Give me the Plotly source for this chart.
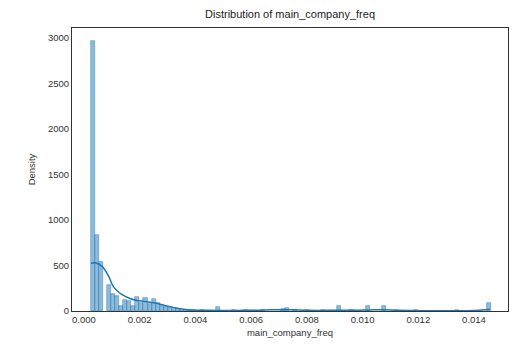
import plotly.graph_objects as go

# Histogram data (density per bin)
bin_start = 0.00025
bin_width = 0.000145
bin_index = [0, 1, 2, 4, 5, 6, 7, 8, 9, 10, 11, 12, 13, 14, 15, 16, 17, 18, 19, 20,
             21, 22, 23, 24, 25, 27, 31, 35, 38, 42, 47, 48, 50, 53, 57, 61, 64, 68,
             72, 75, 80, 85, 90, 98]
density = [2960, 830, 540, 290, 190, 170, 60, 120, 110, 60, 150, 90, 140, 80, 130, 90,
           60, 40, 30, 25, 20, 15, 10, 12, 8, 6, 40, 8, 10, 15, 25, 30, 10, 8, 10, 60,
           8, 50, 60, 10, 6, 5, 8, 90]

# KDE curve
kde_x = [0.00025, 0.0004, 0.00065, 0.00087, 0.00105, 0.0012, 0.00137, 0.00165, 0.0019,
         0.0022, 0.0026, 0.0029, 0.0032, 0.0035, 0.004, 0.0045, 0.005, 0.0055, 0.006,
         0.0065, 0.007, 0.0075, 0.008, 0.0085, 0.009, 0.0095, 0.01, 0.0104, 0.0108,
         0.0112, 0.0118, 0.0125, 0.013, 0.0135, 0.014, 0.0143, 0.01457]
kde_y = [525, 530, 490, 390, 270, 220, 180, 137, 115, 105, 85, 60, 40, 22, 9, 7, 6, 6,
         8, 11, 15, 13, 7, 6, 8, 7, 10, 13, 14, 9, 5, 3, 2, 3, 6, 10, 18]

x_ticks = [0.000, 0.002, 0.004, 0.006, 0.008, 0.010, 0.012, 0.014]
y_ticks = [0, 500, 1000, 1500, 2000, 2500, 3000]

bar_x = [bin_start + (i + 0.5) * bin_width for i in bin_index]

fig = go.Figure()
fig.add_trace(go.Bar(
    x=bar_x, y=density, width=bin_width,
    marker=dict(color="rgba(31,119,180,0.5)",
                line=dict(color="rgba(31,119,180,0.75)", width=0.6)),
    showlegend=False, hoverinfo="skip"))
fig.add_trace(go.Scatter(
    x=kde_x, y=kde_y, mode="lines", line=dict(color="#1f77b4", width=1.5, shape="spline"),
    showlegend=False))

font_fam = "Liberation Sans, Arial, sans-serif"
fig.update_layout(
    width=512, height=344,
    margin=dict(l=72, r=4, t=28, b=33),
    paper_bgcolor="white", plot_bgcolor="white",
    bargap=0,
    title=dict(text="Distribution of main_company_freq", x=0.5665, xanchor="center",
               y=0.97, yanchor="top", font=dict(family=font_fam, size=11, color="#222")),
    font=dict(family=font_fam, color="#333"),
)
fig.update_xaxes(
    range=[-0.00043, 0.01522], tickvals=x_ticks, tickformat=".3f",
    showline=True, linecolor="#333", linewidth=1, mirror=True,
    showgrid=False, zeroline=False, ticks="", tickfont=dict(size=9.5),
    title=dict(text="main_company_freq", font=dict(size=9.5), standoff=4),
)
fig.update_yaxes(
    range=[0, 3107], tickvals=y_ticks,
    showline=True, linecolor="#333", linewidth=1, mirror=True,
    showgrid=False, zeroline=False, ticks="", tickfont=dict(size=9.5),
    title=dict(text="Density", font=dict(size=9.5), standoff=10),
)

fig.write_html("out.html")
